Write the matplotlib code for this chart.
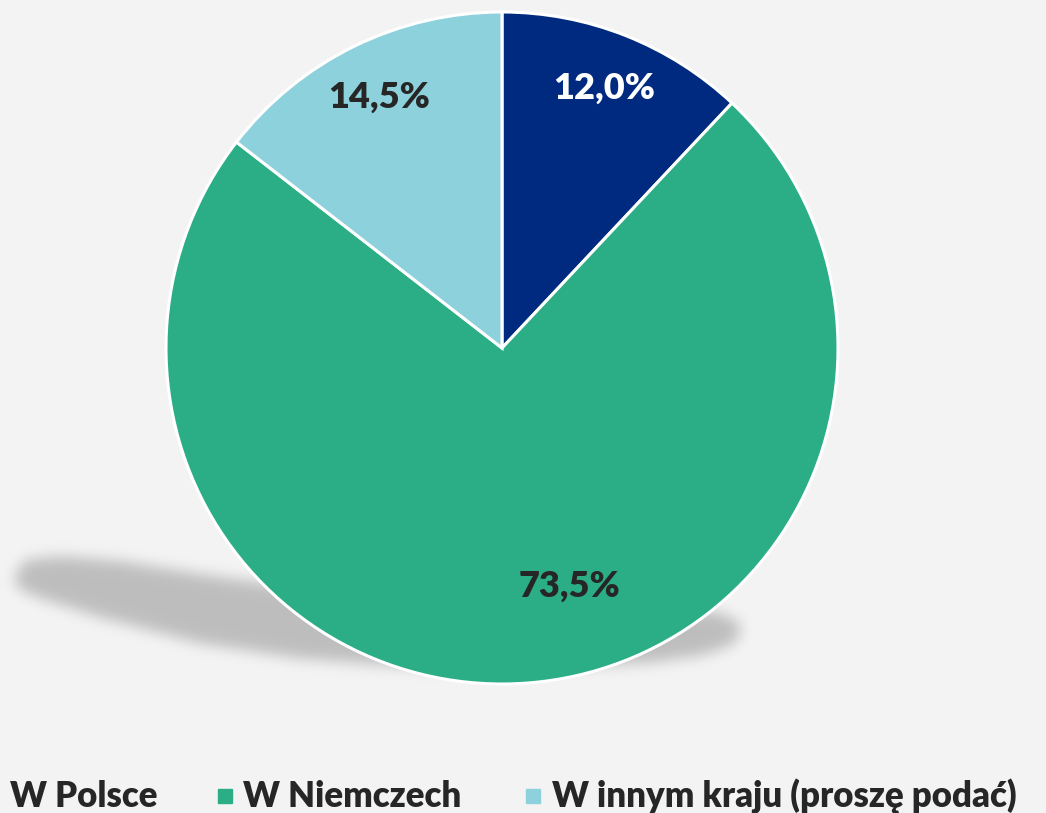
import matplotlib
matplotlib.use('Agg')
import matplotlib.pyplot as plt
import matplotlib.patches as mpatches
from matplotlib.path import Path
import numpy as np

labels = ['W Polsce', 'W Niemczech', 'W innym kraju (proszę podać)']
values = [12.0, 73.5, 14.5]
colors = ['#002A7F', '#2BAE86', '#8DD1DC']

BG = '#F3F3F3'
W, H = 1046, 813
CX, CY, R = 502, 348, 336   # pie centre / radius in pixels

fig = plt.figure(figsize=(W / 100, H / 100), dpi=100)
fig.patch.set_facecolor(BG)
ax = fig.add_axes([0, 0, 1, 1])
ax.set_facecolor(BG)

# soft drop shadow under the pie (outline in pixels, then blurred)
outline = [(14, 576), (25, 560), (60, 556), (120, 561), (200, 574), (300, 588),
           (450, 598), (600, 604), (680, 608), (720, 613), (738, 622), (740, 634),
           (728, 646), (700, 655), (650, 662), (550, 667), (420, 667), (300, 658),
           (200, 643), (100, 617), (40, 598), (18, 588)]
yy, xx = np.mgrid[0:H, 0:W]
mask = Path(outline).contains_points(np.c_[xx.ravel(), yy.ravel()]).reshape(H, W)
shade = mask.astype(float)
k = np.exp(-0.5 * (np.arange(-21, 22) / 7.0) ** 2)
k /= k.sum()
for axis in (0, 1):
    shade = sum(w * np.roll(shade, s, axis=axis) for s, w in zip(range(-21, 22), k))
rgba = np.zeros((H, W, 4))
rgba[..., 3] = shade * 0.22
ax.imshow(rgba, extent=(-CX / R, (W - CX) / R, (CY - H) / R, CY / R),
          origin='upper', zorder=0, aspect='auto', interpolation='bilinear')

wedges, texts, autotexts = ax.pie(
    values, colors=colors, startangle=90, counterclock=False,
    autopct=lambda p: f'{p:.1f}%'.replace('.', ','), pctdistance=0.83,
    wedgeprops=dict(edgecolor='white', linewidth=2.2),
    textprops=dict(fontsize=26, fontweight='heavy', family='Lato'))
for t, c in zip(autotexts, ['white', '#262626', '#262626']):
    t.set_color(c)
autotexts[1].set_position((0.20, -0.71))
for w in wedges:
    w.set_zorder(2)

ax.set_xlim(-CX / R, (W - CX) / R)
ax.set_ylim((CY - H) / R, CY / R)
ax.set_aspect('auto')
ax.axis('off')

# legend (first marker falls off the left edge, as in the original)
leg_y = 1 - 796 / H
marker_x = [-22, 218, 526]
text_x = [10, 243, 552]
for mx, tx, c, lab in zip(marker_x, text_x, colors, labels):
    fig.patches.append(mpatches.Rectangle((mx / W, leg_y - 7 / H), 14 / W, 14 / H,
                                          transform=fig.transFigure, color=c))
    fig.text(tx / W, leg_y, lab, fontsize=25, fontweight='heavy', family='Lato',
             color='#262626', va='center', ha='left')

fig.savefig('out.png', dpi=100, facecolor=BG)
